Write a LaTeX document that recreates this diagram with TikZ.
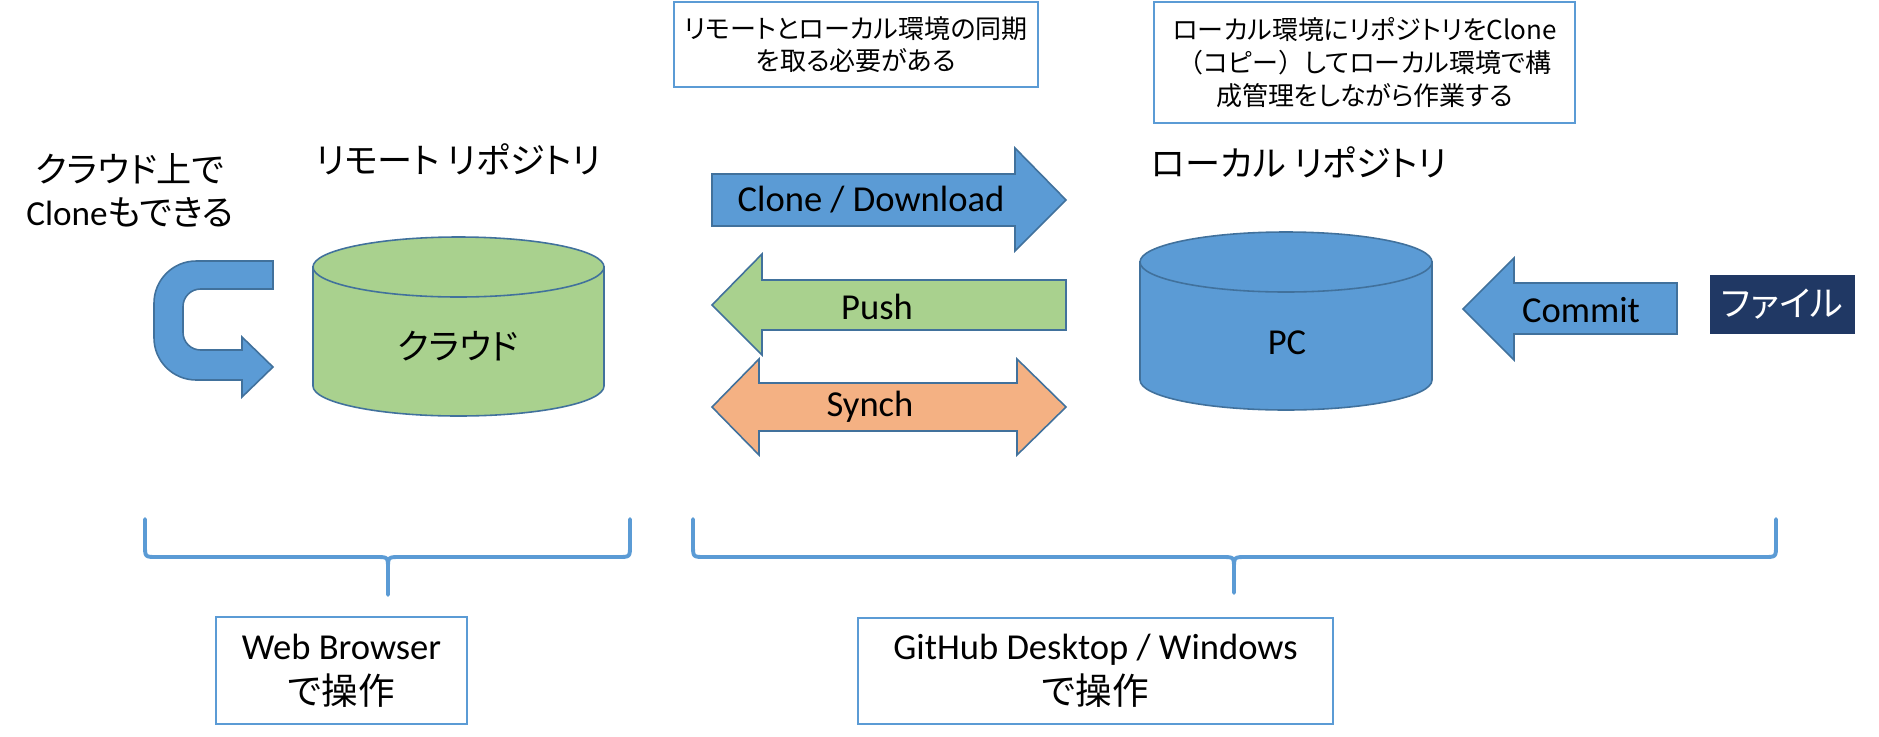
\documentclass[tikz,border=0pt]{standalone}
\usepackage{fontspec}
\setmainfont{Carlito}
\newfontfamily\jp[RawFeature=+palt]{Noto Sans CJK JP}
\newfontfamily\jpw{Noto Sans CJK JP}
\newfontfamily\lat{Carlito}
\usepackage{tikz}
\definecolor{fillblue}{HTML}{5B9BD5}
\definecolor{edgeblue}{HTML}{41719C}
\definecolor{cloudgreen}{HTML}{A9D18E}
\definecolor{synchorange}{HTML}{F4B183}
\definecolor{filenavy}{HTML}{203864}

\begin{document}
\begin{tikzpicture}[x=0.01cm, y=-0.01cm,
  shp/.style={draw=edgeblue, line width=0.45pt},
  lbl/.style={font=\fontsize{10.4}{12.5}\selectfont, inner sep=0pt},
  jlbl/.style={font=\jp\fontsize{10}{12.2}\selectfont, inner sep=0pt, align=center},
  note/.style={draw=fillblue, line width=0.6pt, font=\jp\fontsize{7.4}{9.3}\selectfont, align=center, inner sep=0pt},
  opbox/.style={draw=fillblue, line width=0.6pt, font=\fontsize{10.4}{12.8}\selectfont, align=center, inner sep=0pt},
  brace/.style={draw=fillblue, line width=1.1pt, line cap=round}]
\useasboundingbox (0,0) rectangle (1879,736);
% ================= notes on top =================
\node[note, minimum width=3.64cm, minimum height=0.85cm] (syncnote) at (856,44.5)
  {リモートとローカル環境の同期\\を取る必要がある};
\node[note, minimum width=4.21cm, minimum height=1.21cm] (clonenote) at (1364.5,62.5)
  {ローカル環境にリポジトリをClone\\{\jpw （}コピー{\jpw ）}してローカル環境で構\\成管理をしながら作業する};
% ================= remote side =================
\node[jlbl] (webclone) at (130,190) {クラウド上で\\{\lat Clone}もできる};
\node[jlbl] (remotettl) at (458,159) {リモート リポジトリ};
\filldraw[shp, fill=fillblue] (273,261) [rounded corners=12pt] -- (154,261) -- (154,380)
  [sharp corners] -- (242,380) -- (242,397) -- (273,367) -- (242,337) -- (242,350)
  [rounded corners=5pt] -- (183,350) -- (183,289) [sharp corners] -- (273,289) -- cycle;
\filldraw[shp, fill=cloudgreen] (313,267) -- (313,386)
  arc[start angle=180, end angle=0, x radius=145.5, y radius=30] -- (604,267) -- cycle;
\filldraw[shp, fill=cloudgreen] (458.5,267) ellipse[x radius=145.5, y radius=30];
\node[jlbl] (cloudtxt) at (458,346) {クラウド};
% ================= transfer arrows =================
\filldraw[shp, fill=fillblue] (712,174) -- (1015,174) -- (1015,148) -- (1066,200)
  -- (1015,251) -- (1015,226) -- (712,226) -- cycle;
\node[lbl] (clonetxt) at (871,200) {Clone / Download};
\filldraw[shp, fill=cloudgreen] (1066,280) -- (762,280) -- (762,254) -- (712,305)
  -- (762,355) -- (762,330) -- (1066,330) -- cycle;
\node[lbl] (pushtxt) at (877,307) {Push};
\filldraw[shp, fill=synchorange] (712,407) -- (759,359) -- (759,383) -- (1017,383)
  -- (1017,359) -- (1066,407) -- (1017,455) -- (1017,431) -- (759,431) -- (759,455) -- cycle;
\node[lbl] (synchtxt) at (870,407) {Synch};
% ================= local side =================
\node[jlbl] (localttl) at (1299,162) {ローカル リポジトリ};
\filldraw[shp, fill=fillblue] (1140,262) -- (1140,380)
  arc[start angle=180, end angle=0, x radius=146, y radius=30] -- (1432,262) -- cycle;
\filldraw[shp, fill=fillblue] (1286,262) ellipse[x radius=146, y radius=30];
\node[lbl] (pctxt) at (1287,343) {PC};
\filldraw[shp, fill=fillblue] (1677,283) -- (1514,283) -- (1514,258) -- (1463,309)
  -- (1514,360) -- (1514,334) -- (1677,334) -- cycle;
\node[lbl] (committxt) at (1581,310) {Commit};
\node[jlbl, fill=filenavy, text=white, minimum width=1.45cm, minimum height=0.59cm] (file) at (1782.5,304.5) {ファイル};
% ================= braces and tools =================
\draw[brace] (145,519) -- (145,545) .. controls (145,557) .. (157,557) -- (376,557)
  .. controls (388,557) .. (388,569) .. controls (388,557) .. (400,557) -- (618,557)
  .. controls (630,557) .. (630,545) -- (630,519)
  (388,569) -- (388,595);
\draw[brace] (693,519) -- (693,545) .. controls (693,557) .. (705,557) -- (1222,557)
  .. controls (1234,557) .. (1234,569) .. controls (1234,557) .. (1246,557) -- (1764,557)
  .. controls (1776,557) .. (1776,545) -- (1776,519)
  (1234,569) -- (1234,593);
\node[opbox, minimum width=2.51cm, minimum height=1.07cm] (webbox) at (341.5,670.5)
  {Web Browser\\{\jp で操作}};
\node[opbox, minimum width=4.75cm, minimum height=1.06cm] (ghbox) at (1095.5,671)
  {GitHub Desktop / Windows\\{\jp で操作}};
\end{tikzpicture}
\end{document}
